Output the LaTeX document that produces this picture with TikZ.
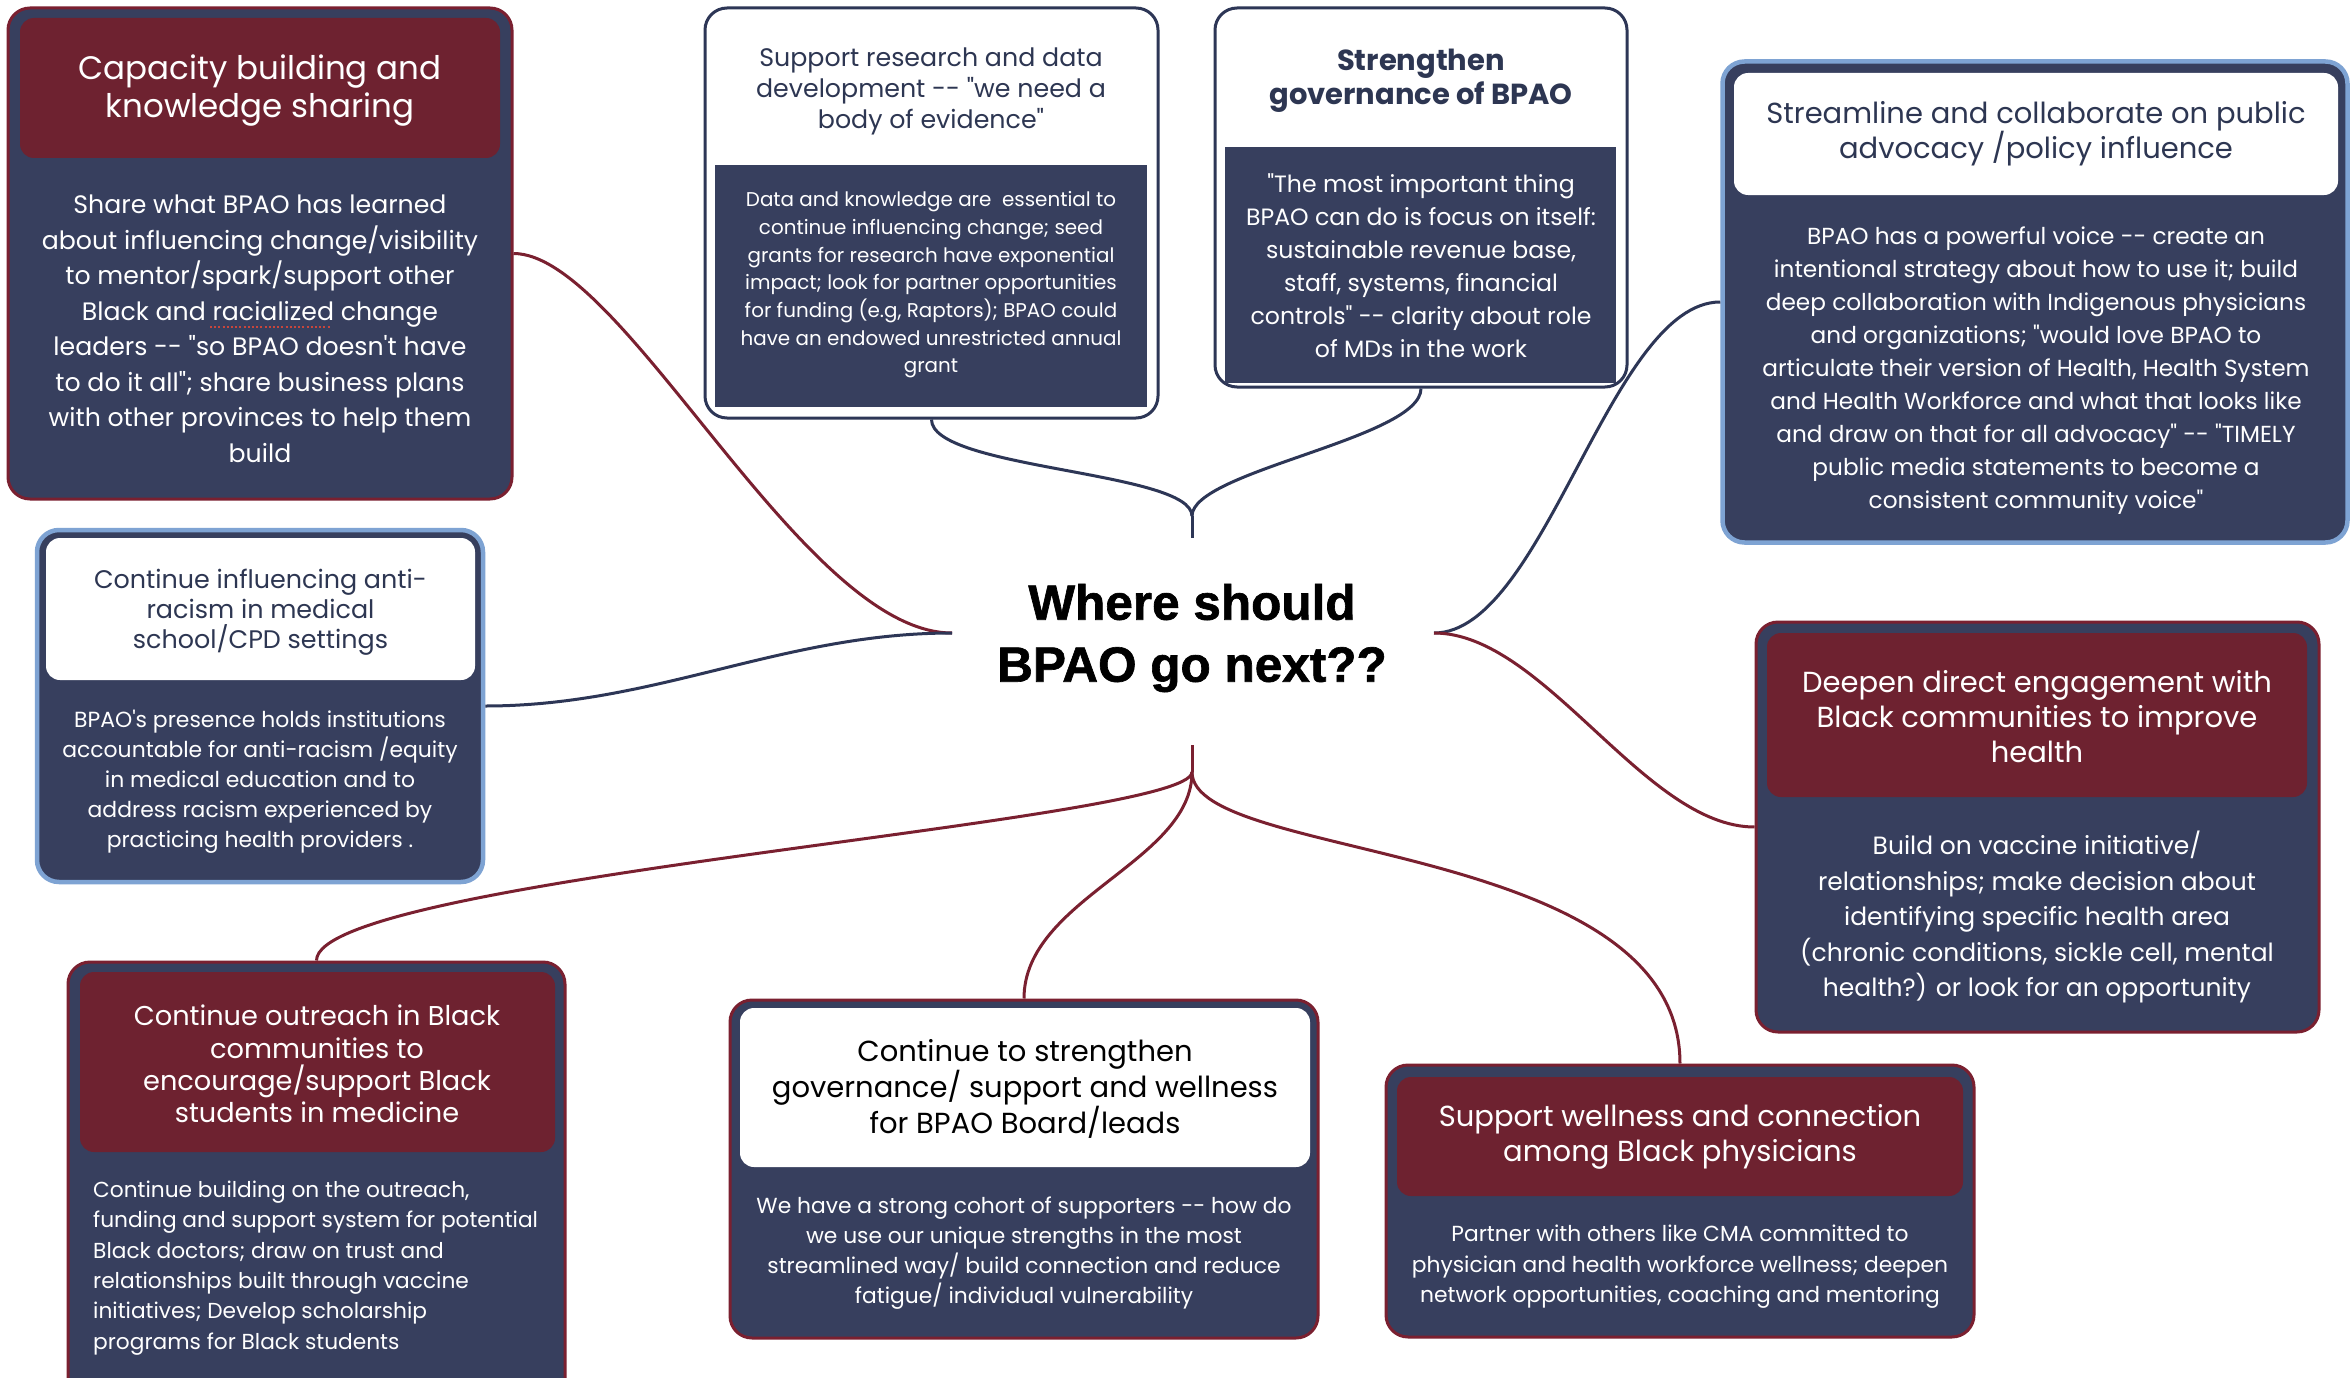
\documentclass[tikz,border=0pt]{standalone}
\usepackage{fontspec}
\setmainfont{Poppins}
\newfontfamily\hubfont{Liberation Sans}[BoldFeatures={FakeBold=1.3}]
\definecolor{navy}{RGB}{55,63,94}
\definecolor{navyline}{RGB}{45,54,86}
\definecolor{hred}{RGB}{110,34,48}
\definecolor{bred}{RGB}{122,32,48}
\definecolor{lblue}{RGB}{126,163,211}
\definecolor{tnavy}{RGB}{45,54,82}
\definecolor{ulred}{RGB}{200,70,60}
\tikzset{
  cardbase/.style={rounded corners=22pt, line width=3pt, fill=navy, inner sep=0pt},
  redcard/.style={cardbase, draw=bred},
  bluecard/.style={cardbase, draw=lblue, line width=4.5pt},
  whitecard/.style={rounded corners=22pt, line width=3pt, fill=white, draw=navyline, inner sep=0pt},
  redhead/.style={rounded corners=14pt, fill=hred, inner sep=0pt},
  whitehead/.style={rounded corners=14pt, fill=white, inner sep=0pt},
  navyrect/.style={fill=navy, inner sep=0pt},
  wtxt/.style={align=center, inner sep=0pt, text=white},
  ntxt/.style={align=center, inner sep=0pt, text=tnavy},
  redline/.style={draw=bred, line width=3pt},
  navline/.style={draw=navyline, line width=3pt},
}
\newcommand{\fz}[2]{\fontsize{#1}{#2}\selectfont}
\newcommand{\sq}{\textquotesingle}
\newcommand{\dq}{\textquotedbl}
\begin{document}
\begin{tikzpicture}[x=1pt,y=-1pt]
\useasboundingbox (0,0) rectangle (2351,1378);
\clip (0,0) rectangle (2351,1378);
\fill[white] (0,0) rectangle (2351,1378);

% ---------- central hub ----------
\node[inner sep=0pt, align=center, font=\hubfont\bfseries\fz{49.5}{62}] (hub) at (1192,638) {Where should\\BPAO go next??};
\coordinate (hubL) at (952,633);
\coordinate (hubR) at (1434,633);
\coordinate (hubT) at (1192,538);
\coordinate (hubTj) at (1192,516);
\coordinate (hubB) at (1192,745);
\coordinate (hubBj) at (1192,772);

% ---------- Box 1: Capacity building ----------
\node[redcard, minimum width=504, minimum height=491] (cap) at (260,253.5) {};
\node[redhead, minimum width=480, minimum height=140] (caph) at (260,88) {};
\node[wtxt, font=\fz{32.5}{38}] (capt) at (260,91) {Capacity building and\\knowledge sharing};
\node[wtxt, font=\fz{25.2}{35.5}] (capb) at (260,329) {Share what BPAO has learned\\about influencing change/visibility\\to mentor/spark/support other\\Black and racialized change\\leaders -{}- \dq so BPAO doesn\sq t have\\to do it all\dq; share business plans\\with other provinces to help them\\build};
\draw[ulred, line width=2pt, dash pattern=on 2pt off 2.2pt] (210,327) -- (330,327);

% ---------- Box 2: Support research ----------
\node[whitecard, minimum width=453, minimum height=410] (rs) at (931.5,213) {};
\node[navyrect, minimum width=432, minimum height=242] (rsb) at (931,286) {};
\node[ntxt, font=\fz{25.3}{31}] (rst) at (931,91) {Support research and data\\development -{}- \dq we need a\\body of evidence\dq};
\node[wtxt, font=\fz{19.9}{27.7}] (rsbt) at (931,285) {Data and knowledge are\ \ essential to\\continue influencing change; seed\\grants for research have exponential\\impact; look for partner opportunities\\for funding (e.g, Raptors); BPAO could\\have an endowed unrestricted annual\\grant};

% ---------- Box 3: Strengthen governance ----------
\node[whitecard, minimum width=412, minimum height=379] (gv) at (1421,197.5) {};
\node[navyrect, minimum width=391, minimum height=236] (gvb) at (1420.5,265) {};
\node[ntxt, font=\bfseries\fz{29}{34}] (gvt) at (1421,81) {Strengthen\\governance of BPAO};
\node[wtxt, font=\fz{23.6}{33}] (gvbt) at (1421,266) {\dq The most important thing\\BPAO can do is focus on itself:\\sustainable revenue base,\\staff, systems, financial\\controls\dq{} -{}- clarity about role\\of MDs in the work};

% ---------- Box 4: Streamline ----------
\node[bluecard, minimum width=625, minimum height=481] (sl) at (2035,302) {};
\node[whitehead, minimum width=604, minimum height=122] (slh) at (2036,134) {};
\node[ntxt, font=\fz{29}{35}] (slt) at (2036,134) {Streamline and collaborate on public\\advocacy /policy influence};
\node[wtxt, font=\fz{23.2}{33}] (slb) at (2036,371) {BPAO has a powerful voice -{}- create an\\intentional strategy about how to use it; build\\deep collaboration with Indigenous physicians\\and organizations; \dq would love BPAO to\\articulate their version of Health, Health System\\and Health Workforce and what that looks like\\and draw on that for all advocacy\dq{} -{}- \dq TIMELY\\public media statements to become a\\consistent community voice\dq};

% ---------- Box 5: anti-racism ----------
\node[bluecard, minimum width=446, minimum height=352] (ar) at (260,706) {};
\node[whitehead, minimum width=429, minimum height=142] (arh) at (260.5,609) {};
\node[ntxt, font=\fz{25.4}{30}] (art) at (260.5,612) {Continue influencing anti-\\racism in medical\\school/CPD settings};
\node[wtxt, font=\fz{21.9}{30}] (arb) at (260,782) {BPAO\sq s presence holds institutions\\accountable for anti-racism /equity\\in medical education and to\\address racism experienced by\\practicing health providers .};

% ---------- Box 6: Deepen engagement ----------
\node[redcard, minimum width=563, minimum height=410] (dp) at (2037.5,827) {};
\node[redhead, minimum width=540, minimum height=164] (dph) at (2037,715) {};
\node[wtxt, font=\fz{29}{35}] (dpt) at (2037,717) {Deepen direct engagement with\\Black communities to improve\\health};
\node[wtxt, font=\fz{25}{35.5}] (dpb) at (2037,917) {Build on vaccine initiative/\\relationships; make decision about\\identifying specific health area\\(chronic conditions, sickle cell, mental\\health?) or look for an opportunity};

% ---------- Box 7: Continue outreach ----------
\node[redcard, minimum width=497, minimum height=440] (oc) at (316.5,1182) {};
\node[redhead, minimum width=475, minimum height=180] (och) at (317.5,1062) {};
\node[wtxt, font=\fz{27.2}{32.3}] (oct) at (317,1064) {Continue outreach in Black\\communities to\\encourage/support Black\\students in medicine};
\node[wtxt, align=left, anchor=west, font=\fz{21.7}{30.4}] (ocb) at (93,1268) {Continue building on the outreach,\\funding and support system for potential\\Black doctors; draw on trust and\\relationships built through vaccine\\initiatives; Develop scholarship\\programs for Black students};

% ---------- Box 8: Continue to strengthen governance ----------
\node[redcard, minimum width=588, minimum height=338] (gs) at (1024,1169) {};
\node[whitehead, minimum width=570, minimum height=159] (gsh) at (1025,1087.5) {};
\node[ntxt, text=black, font=\fz{29}{34.5}] (gst) at (1025,1089) {Continue to strengthen\\governance/ support and wellness\\for BPAO Board/leads};
\node[wtxt, font=\fz{21.8}{30}] (gsb) at (1024,1253) {We have a strong cohort of supporters -{}- how do\\we use our unique strengths in the most\\streamlined way/ build connection and reduce\\fatigue/ individual vulnerability};

% ---------- Box 9: Support wellness ----------
\node[redcard, minimum width=588, minimum height=272] (sw) at (1680,1201) {};
\node[redhead, minimum width=566, minimum height=119] (swh) at (1680,1136.5) {};
\node[wtxt, font=\fz{29}{35}] (swt) at (1680,1137) {Support wellness and connection\\among Black physicians};
\node[wtxt, font=\fz{21.8}{30.5}] (swb) at (1680,1267) {Partner with others like CMA committed to\\physician and health workforce wellness; deepen\\network opportunities, coaching and mentoring};

% ---------- connectors ----------
% left
\draw[redline] (cap.east) .. controls +(110,0) and +(-150,0) .. (hubL);
\draw[navline] (ar.east) .. controls +(170,0) and +(-170,0) .. (hubL);
% right
\draw[navline] (hubR) .. controls +(110,0) and +(-110,0) .. (sl.west);
\draw[redline] (hubR) .. controls +(110,0) and +(-110,0) .. (dp.west);
% top
\draw[navline] (rs.south) .. controls +(0,50) and +(0,-45) .. (hubTj);
\draw[navline] (gv.south) .. controls +(0,50) and +(0,-45) .. (hubTj);
\draw[navline] (hubTj) -- (hubT);
% bottom
\draw[redline] (hubB) -- (hubBj);
\draw[redline] (hubBj) .. controls +(0,50) and +(0,-83) .. (oc.north);
\draw[redline] (hubBj) .. controls +(0,90) and +(0,-100) .. (gs.north);
\draw[redline] (hubBj) .. controls +(0,90) and +(0,-225) .. (sw.north);
\end{tikzpicture}
\end{document}
